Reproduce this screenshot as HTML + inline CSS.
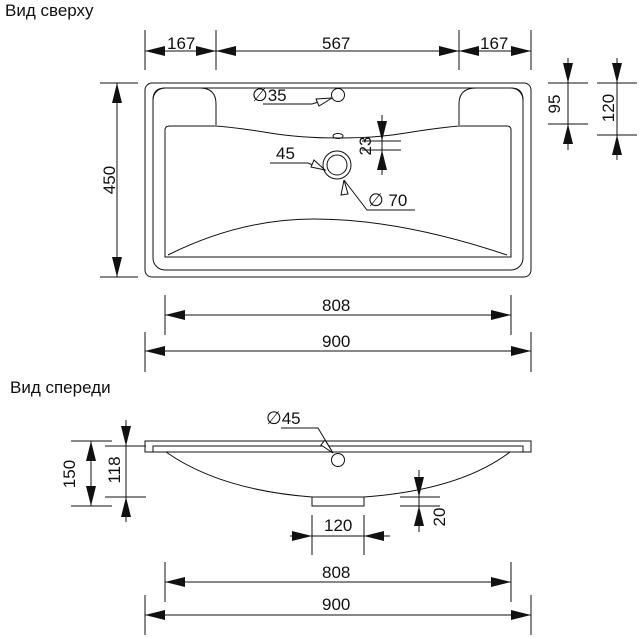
<!DOCTYPE html>
<html><head><meta charset="utf-8"><style>
html,body{margin:0;padding:0;background:#fff;width:640px;height:639px;overflow:hidden}
svg{display:block}
text{font-family:"Liberation Sans",sans-serif;font-size:17px;fill:#111}
.d{font-family:"DejaVu Sans",sans-serif;font-size:18px}
</style></head><body>
<svg width="640" height="639" viewBox="0 0 640 639" xmlns="http://www.w3.org/2000/svg">
<g stroke="#111" stroke-width="1" fill="none">
<rect x="145" y="83" width="386" height="194" rx="7"/>
<rect x="153" y="88" width="370" height="182" rx="12"/>
<path d="M153,125 L153,100 Q153,88 165,88 L200,88 Q216,88 216,104 L216,125"/>
<path d="M523,125 L523,100 Q523,88 511,88 L476,88 Q459,88 459,104 L459,125"/>
<path d="M165,257 L165,130 Q165,126 170,126 L216,126 Q240,128 270,133 Q300,138 338,138 Q376,138 406,133 Q436,128 459,126 L507,126 Q511,126 511,130 L511,257 Z"/>
<path d="M168,255 Q240,219 314,219 Q400,219 507,255"/>
<ellipse cx="338" cy="136" rx="5" ry="2.5"/>
<circle cx="338" cy="95" r="6.5"/>
<circle cx="337" cy="165" r="14"/>
<circle cx="337" cy="165" r="10"/>
<path d="M263,104 L312,104 L332,98"/>
<path d="M270,163 L308,163 L325,170"/>
<path d="M415,210 L367,210 L344,180"/>
<path d="M145,30 V70 M216,30 V70 M459,30 V70 M531,30 V70 M145,51 H531"/>
<path d="M100,83 H138 M100,277 H138 M117,83 V277"/>
<path d="M362,141 H401 M362,150 H401 M382,115 V175"/>
<path d="M548,83 H588 M548,124 H588 M568,58 V150"/>
<path d="M597,83 H637 M597,135 H637 M617,58 V160"/>
<path d="M165,295 V335 M511,295 V335 M165,315 H511"/>
<path d="M145,332 V372 M531,332 V372 M145,351 H531"/>
<rect x="145" y="441" width="386" height="11"/>
<path d="M153,452 V446 H523 V452"/>
<path d="M166,452 Q220,490 312,497 M364,497 Q460,490 510,452"/>
<rect x="312" y="497" width="52" height="9"/>
<circle cx="338" cy="460" r="6.5"/>
<path d="M281,428 L318,428 L333,453"/>
<path d="M71,441 H112 M71,506 H112 M91,441 V506"/>
<path d="M105,446 H146 M105,497 H146 M126,420 V522"/>
<path d="M400,497 H440 M400,506 H440 M419,470 V532"/>
<path d="M312,515 V555 M364,515 V555 M290,536 H390"/>
<path d="M165,562 V602 M511,562 V602 M165,582 H511"/>
<path d="M145,595 V635 M531,595 V635 M145,615 H531"/>
</g>
<g fill="#111" stroke="none">
<polygon points="145,51 165,46 165,56"/><polygon points="216,51 196,46 196,56"/>
<polygon points="216,51 236,46 236,56"/><polygon points="459,51 439,46 439,56"/>
<polygon points="459,51 479,46 479,56"/><polygon points="531,51 511,46 511,56"/>
<polygon points="117,83 112,103 122,103"/><polygon points="117,277 112,257 122,257"/>
<polygon points="382,141 377,121 387,121"/><polygon points="382,150 377,170 387,170"/>
<polygon points="568,83 563,63 573,63"/><polygon points="568,124 563,144 573,144"/>
<polygon points="617,83 612,63 622,63"/><polygon points="617,135 612,155 622,155"/>
<polygon points="165,315 185,310 185,320"/><polygon points="511,315 491,310 491,320"/>
<polygon points="145,351 165,346 165,356"/><polygon points="531,351 511,346 511,356"/>
<polygon points="91,441 86,461 96,461"/><polygon points="91,506 86,486 96,486"/>
<polygon points="126,446 121,426 131,426"/><polygon points="126,497 121,517 131,517"/>
<polygon points="419,497 414,477 424,477"/><polygon points="419,506 414,526 424,526"/>
<polygon points="312,536 292,531 292,541"/><polygon points="364,536 384,531 384,541"/>
<polygon points="165,582 185,577 185,587"/><polygon points="511,582 491,577 491,587"/>
<polygon points="145,615 165,610 165,620"/><polygon points="531,615 511,610 511,620"/>
</g>
<g fill="#fff" stroke="#111">
<polygon points="332,98 316,99 319,106"/>
<polygon points="325,170 314,160 311,167"/>
<polygon points="344,180 348,194 341,195"/>
<polygon points="333,453 325,440 321,445"/>
</g>
<text x="5" y="16">Вид сверху</text>
<text x="10" y="393">Вид спереди</text>
<text x="167" y="49">167</text>
<text x="322" y="49">567</text>
<text x="480" y="49">167</text>
<text x="252" y="101"><tspan class="d">∅</tspan>35</text>
<text x="276" y="159">45</text>
<text x="368" y="206"><tspan class="d">∅</tspan> 70</text>
<text x="322" y="311">808</text>
<text x="322" y="347">900</text>
<text x="266" y="424"><tspan class="d">∅</tspan>45</text>
<text x="324" y="531">120</text>
<text x="322" y="578">808</text>
<text x="322" y="610">900</text>
<text transform="translate(115,180) rotate(-90)" text-anchor="middle">450</text>
<text transform="translate(371,146) rotate(-90)" text-anchor="middle">23</text>
<text transform="translate(560,104) rotate(-90)" text-anchor="middle">95</text>
<text transform="translate(614,108) rotate(-90)" text-anchor="middle">120</text>
<text transform="translate(75,474) rotate(-90)" text-anchor="middle">150</text>
<text transform="translate(120,470) rotate(-90)" text-anchor="middle">118</text>
<text transform="translate(445,517) rotate(-90)" text-anchor="middle">20</text>
</svg>
</body></html>
